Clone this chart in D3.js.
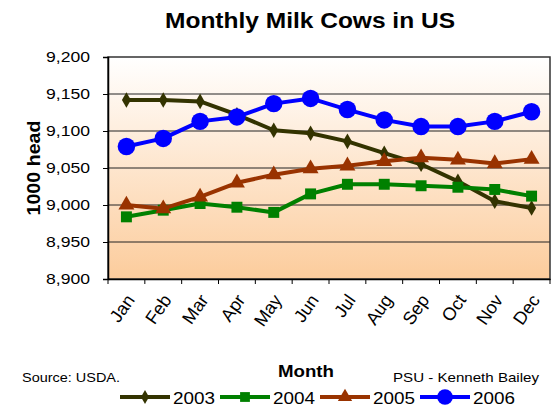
<!DOCTYPE html>
<html><head><meta charset="utf-8">
<script src="https://cdn.jsdelivr.net/npm/d3@7"></script>
<style>body{margin:0;background:#fff}svg{display:block;font-family:"Liberation Sans",Arial,sans-serif}</style>
</head><body><svg id="c" width="556" height="407"></svg>
<script>
const months = ["Jan","Feb","Mar","Apr","May","Jun","Jul","Aug","Sep","Oct","Nov","Dec"];
const years = ["2003","2004","2005","2006"];
const v2003 = [9142,9142,9140,9122,9101,9097,9086,9070,9055,9032,9005,8996];
const v2004 = [8984,8993,9002,8997,8990,9015,9028,9028,9026,9024,9021,9012];
const v2005 = [9000,8995,9011,9030,9041,9049,9053,9059,9064,9061,9056,9062];
const v2006 = [9079,9090,9113,9119,9137,9144,9129,9115,9106,9106,9113,9126];
const yTicks = [8900,8950,9000,9050,9100,9150,9200];
const colors = ["#333300","#008000","#993300","#0000ff"];
const symbols = [d3.symbolDiamond, d3.symbolSquare, d3.symbolTriangle, d3.symbolCircle];
const symSizes = [70, 120, 110, 240];
const series = [v2003, v2004, v2005, v2006];

const svg = d3.select("#c");
const L = 108, R = 550, T = 57, B = 279;
const x = d3.scaleBand().domain(months).range([L, R]);
const y = d3.scaleLinear().domain([8900, 9200]).range([B, T]);

const defs = svg.append("defs");
const g = defs.append("linearGradient").attr("id","bg").attr("x1",0).attr("y1",0).attr("x2",0).attr("y2",1);
g.append("stop").attr("offset","0%").attr("stop-color","#ffffff");
g.append("stop").attr("offset","100%").attr("stop-color","#fccc9c");
svg.append("rect").attr("x",L).attr("y",T).attr("width",R-L).attr("height",B-T).attr("fill","url(#bg)");

// gridlines
svg.append("g").selectAll("line").data(yTicks.slice(1,-1)).join("line")
  .attr("x1",L).attr("x2",R).attr("y1",d=>y(d)).attr("y2",d=>y(d))
  .attr("stroke","#222").attr("stroke-width",1);

svg.append("rect").attr("x",L).attr("y",T).attr("width",R-L).attr("height",B-T)
  .attr("fill","none").attr("stroke","#333").attr("stroke-width",1.5);

// y axis
const ya = svg.append("g").attr("transform",`translate(${L},0)`)
  .call(d3.axisLeft(y).tickValues(yTicks).tickFormat(d3.format(",")).tickSize(5).tickPadding(13));
ya.select(".domain").attr("stroke","#000").attr("stroke-width",1.5);
ya.selectAll(".tick line").attr("stroke","#000");
ya.selectAll("text").attr("font-size",15).attr("fill","#000")
  .attr("font-family","Liberation Sans, Arial")
  .attr("textLength",44).attr("lengthAdjust","spacingAndGlyphs");

// x axis
const xa = svg.append("g").attr("transform",`translate(0,${B})`)
  .call(d3.axisBottom(x).tickSize(0).tickPadding(0));
xa.select(".domain").attr("stroke","#000").attr("stroke-width",1.5);
xa.selectAll(".tick text").attr("font-size",18).attr("fill","#000")
  .attr("font-family","Liberation Sans, Arial")
  .attr("text-anchor","end").attr("dy",0)
  .attr("transform","translate(9,21) rotate(-55)");
// boundary ticks
svg.append("g").selectAll("line").data(d3.range(months.length+1)).join("line")
  .attr("x1",i=>L+i*x.step()).attr("x2",i=>L+i*x.step())
  .attr("y1",B).attr("y2",B+5).attr("stroke","#000");

// lines
const line = d3.line().x((d,i)=>x(months[i])+x.bandwidth()/2).y(d=>y(d));
series.forEach((s,k)=>{
  svg.append("path").datum(s).attr("d",line).attr("fill","none")
    .attr("stroke",colors[k]).attr("stroke-width",4).attr("stroke-linejoin","round");
  svg.append("g").selectAll("path").data(s).join("path")
    .attr("d",d3.symbol().type(symbols[k]).size(symSizes[k]))
    .attr("transform",(d,i)=>`translate(${x(months[i])+x.bandwidth()/2},${y(d)})`)
    .attr("fill",colors[k]);
});

// texts
svg.append("text").attr("x",310).attr("y",28).attr("text-anchor","middle")
  .attr("font-size",22).attr("font-weight","bold")
  .attr("textLength",290).attr("lengthAdjust","spacingAndGlyphs").text("Monthly Milk Cows in US");
svg.append("text").attr("transform","translate(40,168) rotate(-90)").attr("text-anchor","middle")
  .attr("font-size",18).attr("font-weight","bold")
  .attr("textLength",95).attr("lengthAdjust","spacingAndGlyphs").text("1000 head");
svg.append("text").attr("x",306).attr("y",377).attr("text-anchor","middle")
  .attr("font-size",17).attr("font-weight","bold")
  .attr("textLength",56).attr("lengthAdjust","spacingAndGlyphs").text("Month");
svg.append("text").attr("x",22).attr("y",382).attr("font-size",13)
  .attr("textLength",98).attr("lengthAdjust","spacingAndGlyphs").text("Source: USDA.");
svg.append("text").attr("x",393).attr("y",382).attr("font-size",13)
  .attr("textLength",146).attr("lengthAdjust","spacingAndGlyphs").text("PSU - Kenneth Bailey");

// legend
const lx = [120, 220, 320, 420];
years.forEach((yr,k)=>{
  const gg = svg.append("g").attr("transform",`translate(${lx[k]},397)`);
  gg.append("line").attr("x1",0).attr("x2",50).attr("stroke",colors[k]).attr("stroke-width",4);
  gg.append("path").attr("d",d3.symbol().type(symbols[k]).size(symSizes[k]*0.8)).attr("transform","translate(25,0)").attr("fill",colors[k]);
  gg.append("text").attr("x",53).attr("y",7).attr("font-size",17)
    .attr("textLength",42).attr("lengthAdjust","spacingAndGlyphs").text(yr);
});
</script></body></html>
